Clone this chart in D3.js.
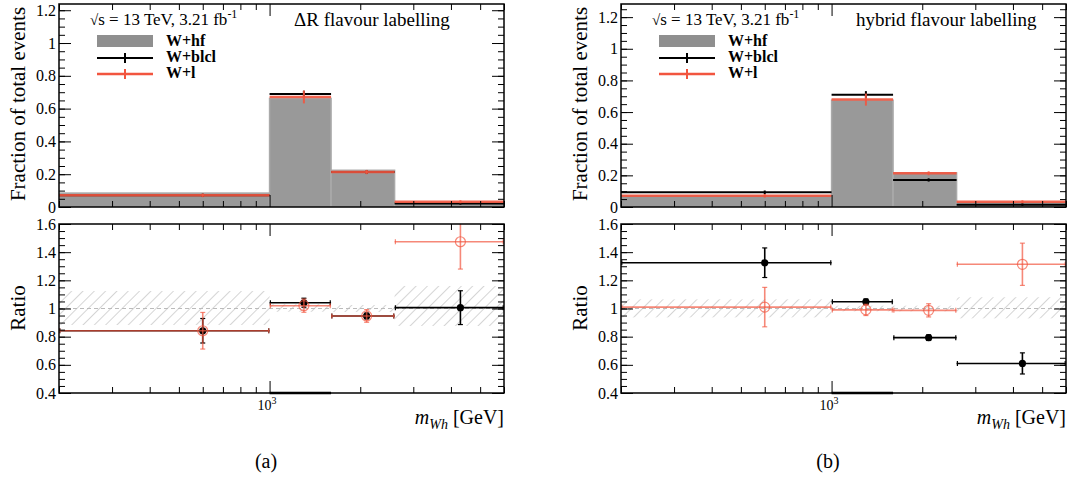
<!DOCTYPE html>
<html>
<head>
<meta charset="utf-8">
<script src="https://cdn.jsdelivr.net/npm/d3@7"></script>
<style>
  body { margin: 0; background: #fff; }
  svg { display: block; font-family: "Liberation Serif", "Times New Roman", serif; }
</style>
</head>
<body>
<div id="chart"></div>
<script>
// binning in m_Wh [GeV]
const binEdges = [200, 1000, 1600, 2600, 6000];
const binCentres = [600, 1300, 2100, 4300];
const topTicks = [0, 0.2, 0.4, 0.6, 0.8, 1, 1.2];
const ratioTicks = [0.4, 0.6, 0.8, 1, 1.2, 1.4, 1.6];
const xMajorTicks = [1000];
const xMinorTicks = [200, 300, 400, 500, 600, 700, 800, 900, 2000, 3000, 4000, 5000, 6000];
const legendLabels = ["W+hf", "W+blcl", "W+l"];

// (a) dR flavour labelling
const fracHfA = [0.085, 0.662, 0.224, 0.022];
const fracBlclA = [0.071, 0.689, 0.213, 0.022];
const fracBlclErrA = [0.004, 0.014, 0.005, 0.002];
const fracLA = [0.071, 0.671, 0.213, 0.032];
const fracLErrA = [0.005, 0.033, 0.007, 0.003];
const ratioBlclA = [0.842, 1.041, 0.947, 1.006];
const ratioBlclErrA = [0.087, 0.032, 0.02, 0.12];
const ratioLA = [0.842, 1.02, 0.947, 1.474];
const ratioLErrA = [0.13, 0.047, 0.045, 0.194];
const bandLoA = [0.883, 0.977, 0.975, 0.876];
const bandHiA = [1.124, 1.03, 1.025, 1.16];

// (b) hybrid flavour labelling
const fracHfB = [0.071, 0.675, 0.216, 0.025];
const fracBlclB = [0.093, 0.71, 0.171, 0.015];
const fracBlclErrB = [0.005, 0.016, 0.004, 0.002];
const fracLB = [0.071, 0.679, 0.213, 0.033];
const fracLErrB = [0.005, 0.032, 0.006, 0.003];
const ratioBlclB = [1.325, 1.048, 0.793, 0.61];
const ratioBlclErrB = [0.105, 0.02, 0.02, 0.075];
const ratioLB = [1.01, 0.99, 0.987, 1.314];
const ratioLErrB = [0.14, 0.04, 0.047, 0.15];
const bandLoB = [0.937, 0.98, 0.98, 0.93];
const bandHiB = [1.065, 1.02, 1.02, 1.08];

const panels = [
  { dx: 0, yMax: 1.238, label: "ΔR flavour labelling", caption: "(a)",
    hf: fracHfA, blcl: fracBlclA, blclErr: fracBlclErrA, l: fracLA, lErr: fracLErrA,
    rBlcl: ratioBlclA, rBlclErr: ratioBlclErrA, rL: ratioLA, rLErr: ratioLErrA, lo: bandLoA, hi: bandHiA },
  { dx: 562, yMax: 1.283, label: "hybrid flavour labelling", caption: "(b)",
    hf: fracHfB, blcl: fracBlclB, blclErr: fracBlclErrB, l: fracLB, lErr: fracLErrB,
    rBlcl: ratioBlclB, rBlclErr: ratioBlclErrB, rL: ratioLB, rLErr: ratioLErrB, lo: bandLoB, hi: bandHiB }
];

const width = 1074, height = 487;
const RED = "#f2553f";
const GREY = "#999";
const FONT = '"Liberation Serif", "Times New Roman", serif';

const svg = d3.select("#chart").append("svg")
  .attr("width", width)
  .attr("height", height);

const defs = svg.append("defs");
defs.append("pattern")
  .attr("id", "hatch")
  .attr("patternUnits", "userSpaceOnUse")
  .attr("width", 8)
  .attr("height", 8)
  .attr("patternTransform", "rotate(45)")
  .append("line")
  .attr("x1", 0).attr("y1", 0).attr("x2", 0).attr("y2", 8)
  .attr("stroke", "#b8b8b8")
  .attr("stroke-width", 1.2);

const minorTop = yMax => d3.range(0, 40).map(i => +(i * 0.05).toFixed(2)).filter(v => v <= yMax);
const minorRatio = d3.range(0, 25).map(i => +(0.4 + i * 0.05).toFixed(2));
const fmt = d3.format("~g");

function frameAxes(g, x, y, majors, minors, left, right, top, bottom) {
  const ax = g.append("g");
  // left side
  ax.append("g").attr("transform", `translate(${left},0)`)
    .call(d3.axisLeft(y).tickValues(minors).tickSize(-6).tickFormat(""));
  ax.append("g").attr("transform", `translate(${left},0)`)
    .call(d3.axisLeft(y).tickValues(majors).tickSize(-12).tickPadding(3).tickFormat(fmt));
  // right side
  ax.append("g").attr("transform", `translate(${right},0)`)
    .call(d3.axisRight(y).tickValues(minors).tickSize(-6).tickFormat(""));
  ax.append("g").attr("transform", `translate(${right},0)`)
    .call(d3.axisRight(y).tickValues(majors).tickSize(-12).tickFormat(""));
  // bottom & top x ticks
  ax.append("g").attr("transform", `translate(0,${bottom})`)
    .call(d3.axisBottom(x).tickValues(xMinorTicks).tickSize(-6).tickFormat(""));
  ax.append("g").attr("transform", `translate(0,${bottom})`)
    .call(d3.axisBottom(x).tickValues(xMajorTicks).tickSize(-12).tickFormat(""));
  ax.append("g").attr("transform", `translate(0,${top})`)
    .call(d3.axisTop(x).tickValues(xMinorTicks).tickSize(-6).tickFormat(""));
  ax.append("g").attr("transform", `translate(0,${top})`)
    .call(d3.axisTop(x).tickValues(xMajorTicks).tickSize(-12).tickFormat(""));
  ax.selectAll("g").attr("font-family", FONT).attr("font-size", 16);
  ax.selectAll(".domain").remove();
  ax.selectAll(".tick line").attr("stroke", "#000").attr("stroke-width", 1);
  ax.selectAll(".tick text").attr("fill", "#000").style("font-family", FONT);
  ax.append("rect")
    .attr("x", left).attr("y", top)
    .attr("width", right - left).attr("height", bottom - top)
    .attr("fill", "none").attr("stroke", "#000").attr("stroke-width", 1.5);
}

panels.forEach((p, pi) => {
  const left = 59 + p.dx, right = 504 + p.dx;
  const x = d3.scaleLog().domain([binEdges[0], binEdges[binEdges.length - 1]]).range([left, right]);
  const yTop = d3.scaleLinear().domain([0, p.yMax]).range([207, 4]);
  const yRat = d3.scaleLinear().domain([0.4, 1.6]).range([393, 224]);
  const bins = d3.range(binCentres.length).map(i => ({ x0: binEdges[i], x1: binEdges[i + 1], xc: binCentres[i], i }));

  const g = svg.append("g");

  defs.append("clipPath").attr("id", "clipTop" + pi).append("rect")
    .attr("x", left).attr("y", 4).attr("width", right - left).attr("height", 203);
  defs.append("clipPath").attr("id", "clipRat" + pi).append("rect")
    .attr("x", left).attr("y", 224).attr("width", right - left).attr("height", 169);

  // ---- top pad ----
  const gt = g.append("g").attr("clip-path", `url(#clipTop${pi})`);
  gt.selectAll("rect.hf").data(bins).join("rect")
    .attr("x", d => x(d.x0))
    .attr("width", d => x(d.x1) - x(d.x0))
    .attr("y", d => yTop(p.hf[d.i]))
    .attr("height", d => yTop(0) - yTop(p.hf[d.i]))
    .attr("fill", GREY)
    .attr("stroke", "#aaa")
    .attr("stroke-width", 1.5);

  const drawTopSeries = (vals, errs, color, sw, op) => {
    const s = gt.append("g").attr("stroke", color).attr("stroke-opacity", op);
    s.selectAll("line.h").data(bins).join("line")
      .attr("x1", d => x(d.x0)).attr("x2", d => x(d.x1))
      .attr("y1", d => yTop(vals[d.i])).attr("y2", d => yTop(vals[d.i]))
      .attr("stroke-width", sw);
    s.selectAll("line.v").data(bins).join("line")
      .attr("x1", d => x(d.xc)).attr("x2", d => x(d.xc))
      .attr("y1", d => yTop(vals[d.i] - errs[d.i]) + 1)
      .attr("y2", d => yTop(vals[d.i] + errs[d.i]) - 1)
      .attr("stroke-width", 2);
  };
  drawTopSeries(p.blcl, p.blclErr, "#000", 2, 1);
  drawTopSeries(p.l, p.lErr, RED, 2.5, 0.9);

  frameAxes(g, x, yTop, topTicks, minorTop(p.yMax), left, right, 4, 207);

  // ---- ratio pad ----
  const gr = g.append("g").attr("clip-path", `url(#clipRat${pi})`);
  gr.selectAll("rect.band").data(bins).join("rect")
    .attr("x", d => x(d.x0))
    .attr("width", d => x(d.x1) - x(d.x0))
    .attr("y", d => yRat(p.hi[d.i]))
    .attr("height", d => yRat(p.lo[d.i]) - yRat(p.hi[d.i]))
    .attr("fill", "url(#hatch)");
  gr.append("line")
    .attr("x1", left).attr("x2", right)
    .attr("y1", yRat(1)).attr("y2", yRat(1))
    .attr("stroke", "#bbb").attr("stroke-width", 1)
    .attr("stroke-dasharray", "4,3");

  const drawRatio = (vals, errs, color, op, marker) => {
    const s = gr.append("g").attr("stroke", color).attr("stroke-opacity", op);
    const cap = 2.5;
    s.selectAll("line.h").data(bins).join("line")
      .attr("x1", d => x(d.x0)).attr("x2", d => x(d.x1))
      .attr("y1", d => yRat(vals[d.i])).attr("y2", d => yRat(vals[d.i]))
      .attr("stroke-width", 1.6);
    s.selectAll("line.c0").data(bins).join("line")
      .attr("x1", d => x(d.x0) + 0.8).attr("x2", d => x(d.x0) + 0.8)
      .attr("y1", d => yRat(vals[d.i]) - cap).attr("y2", d => yRat(vals[d.i]) + cap)
      .attr("stroke-width", 1.2);
    s.selectAll("line.c1").data(bins).join("line")
      .attr("x1", d => x(d.x1) - 0.8).attr("x2", d => x(d.x1) - 0.8)
      .attr("y1", d => yRat(vals[d.i]) - cap).attr("y2", d => yRat(vals[d.i]) + cap)
      .attr("stroke-width", 1.2);
    s.selectAll("line.v").data(bins).join("line")
      .attr("x1", d => x(d.xc)).attr("x2", d => x(d.xc))
      .attr("y1", d => yRat(vals[d.i] - errs[d.i]))
      .attr("y2", d => yRat(vals[d.i] + errs[d.i]))
      .attr("stroke-width", 1.6);
    [1, -1].forEach(sg => {
      s.selectAll(null).data(bins).join("line")
        .attr("x1", d => x(d.xc) - cap).attr("x2", d => x(d.xc) + cap)
        .attr("y1", d => yRat(vals[d.i] + sg * errs[d.i]))
        .attr("y2", d => yRat(vals[d.i] + sg * errs[d.i]))
        .attr("stroke-width", 1.2);
    });
    if (marker === "filled") {
      gr.selectAll(null).data(bins).join("circle")
        .attr("cx", d => x(d.xc)).attr("cy", d => yRat(vals[d.i]))
        .attr("r", 3.6).attr("fill", color);
    } else {
      gr.selectAll(null).data(bins).join("circle")
        .attr("cx", d => x(d.xc)).attr("cy", d => yRat(vals[d.i]))
        .attr("r", 5).attr("fill", "none")
        .attr("stroke", color).attr("stroke-opacity", op).attr("stroke-width", 1.2);
    }
  };
  drawRatio(p.rBlcl, p.rBlclErr, "#000", 1, "filled");
  drawRatio(p.rL, p.rLErr, RED, 0.7, "open");

  frameAxes(g, x, yRat, ratioTicks, minorRatio, left, right, 224, 393);

  // thicker frame piece under the second bin
  g.append("line")
    .attr("x1", x(binEdges[1])).attr("x2", x(binEdges[2]))
    .attr("y1", 393).attr("y2", 393)
    .attr("stroke", "#000").attr("stroke-width", 2.5);

  // x tick label 10^3
  xMajorTicks.forEach(v => {
    const t = g.append("text")
      .attr("x", x(v) - 12).attr("y", 410)
      .attr("font-size", "14px");
    t.append("tspan").text("10");
    t.append("tspan").attr("dy", -6).attr("font-size", "10px").text(Math.round(Math.log10(v)));
  });

  // axis titles
  const xt = g.append("text")
    .attr("x", right).attr("y", 424)
    .attr("text-anchor", "end")
    .attr("font-size", "20px");
  xt.append("tspan").attr("font-style", "italic").text("m");
  xt.append("tspan").attr("font-style", "italic").attr("font-size", "14px").attr("dy", 5).text("Wh");
  xt.append("tspan").attr("dy", -5).text(" [GeV]");

  g.append("text")
    .attr("transform", `translate(${25 + p.dx},104) rotate(-90)`)
    .attr("text-anchor", "middle")
    .attr("font-size", "21px")
    .text("Fraction of total events");
  g.append("text")
    .attr("transform", `translate(${25 + p.dx},308) rotate(-90)`)
    .attr("text-anchor", "middle")
    .attr("font-size", "21px")
    .text("Ratio");

  // captions
  g.append("text")
    .attr("x", 266 + p.dx).attr("y", 468)
    .attr("text-anchor", "middle")
    .attr("font-size", "20px")
    .text(p.caption);

  // annotations
  const en = g.append("text")
    .attr("x", 90 + p.dx).attr("y", 25)
    .attr("font-size", "17px");
  en.append("tspan").attr("font-size", "15px").text("√");
  en.append("tspan").text("s = 13 TeV, 3.21 fb");
  en.append("tspan").attr("dy", -7).attr("font-size", "12px").text("-1");

  g.append("text")
    .attr("x", 294 + p.dx).attr("y", 26)
    .attr("font-size", "19px")
    .text(p.label);

  // legend
  const lx = 97 + p.dx;
  const lg = g.append("g").attr("font-size", "16px").attr("font-weight", "bold");
  lg.append("rect").attr("x", lx).attr("y", 35).attr("width", 56).attr("height", 12).attr("fill", "#8f8f8f");
  lg.append("line").attr("x1", lx).attr("x2", lx + 56).attr("y1", 58).attr("y2", 58).attr("stroke", "#000").attr("stroke-width", 2);
  lg.append("line").attr("x1", lx + 28).attr("x2", lx + 28).attr("y1", 53).attr("y2", 63).attr("stroke", "#000").attr("stroke-width", 2);
  lg.append("line").attr("x1", lx).attr("x2", lx + 56).attr("y1", 74).attr("y2", 74).attr("stroke", RED).attr("stroke-width", 2.5);
  lg.append("line").attr("x1", lx + 28).attr("x2", lx + 28).attr("y1", 69).attr("y2", 79).attr("stroke", RED).attr("stroke-width", 2);
  legendLabels.forEach((t, i) => {
    lg.append("text").attr("x", lx + 69).attr("y", 46 + i * 16).text(t);
  });
});
</script>
</body>
</html>
